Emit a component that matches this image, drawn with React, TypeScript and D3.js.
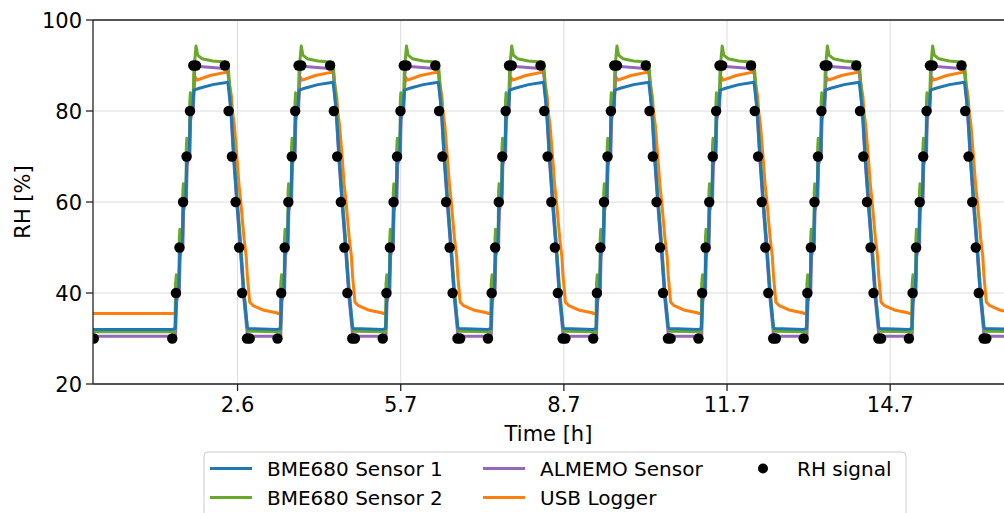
import React from "react";
import * as d3 from "d3";

// hours at which each humidity cycle starts (last 30 % sample before the ramp up)
const CYCLE_STARTS = [1.43, 3.381, 5.332, 7.283, 9.234, 11.185, 13.136, 15.087];
const T_START = -0.04;
const T_END = 16.85;

// RH set-point samples inside one cycle: [hours after cycle start, RH %]
const SIGNAL_STEPS: [number, number][] = [
  [0, 30], [0.068, 40], [0.133, 50], [0.2, 60], [0.265, 70], [0.328, 80],
  [0.39, 90], [0.44, 90], [0.975, 90], [1.044, 80], [1.106, 70], [1.174, 60],
  [1.24, 50], [1.295, 40], [1.385, 30], [1.435, 30],
];
const SIGNAL_FIRST: [number, number] = [-0.025, 30];

// sensor traces inside one cycle
const BME1_LEAD = 32.0;
const BME1_CYCLE: [number, number][] = [
  [0, 32.0], [0.055, 32.2], [0.07, 38], [0.085, 40.3], [0.12, 41], [0.135, 48],
  [0.15, 50.5], [0.185, 51], [0.2, 58], [0.215, 60.5], [0.25, 61], [0.265, 68],
  [0.28, 70.5], [0.315, 71], [0.33, 78], [0.345, 80.5], [0.38, 81], [0.4, 84.6],
  [0.5, 85.0], [0.75, 85.8], [1.03, 86.3], [1.09, 80], [1.14, 70], [1.2, 60],
  [1.265, 50], [1.325, 40], [1.39, 32.5], [1.41, 32.2], [1.95, 32.0],
];

const BME2_LEAD = 31.5;
const BME2_CYCLE: [number, number][] = [
  [0, 31.5], [0.05, 31.5], [0.06, 42], [0.075, 44], [0.09, 41.5], [0.125, 42],
  [0.13, 52], [0.14, 54], [0.155, 51.5], [0.19, 52], [0.195, 62], [0.205, 64],
  [0.22, 61.5], [0.255, 62], [0.26, 72], [0.27, 74], [0.285, 71.5], [0.32, 72],
  [0.325, 82], [0.335, 84], [0.35, 81.5], [0.385, 82], [0.4, 89], [0.44, 94.3],
  [0.47, 92.3], [0.55, 91.5], [0.75, 91], [1.03, 90.7], [1.095, 80.5],
  [1.145, 70.5], [1.205, 60.5], [1.27, 50.5], [1.33, 40.5], [1.395, 32],
  [1.42, 31.6], [1.95, 31.5],
];

const ALMEMO_LEAD = 30.5;
const ALMEMO_CYCLE: [number, number][] = [
  [0, 30.5], [0.06, 30.5], [0.08, 38], [0.095, 39], [0.13, 39.5], [0.145, 48],
  [0.16, 49], [0.195, 49.5], [0.21, 58], [0.225, 59], [0.26, 59.5], [0.275, 68],
  [0.29, 69], [0.325, 69.5], [0.34, 78], [0.355, 79], [0.39, 80], [0.41, 88],
  [0.43, 90.5], [0.5, 89.8], [1.03, 89.3], [1.09, 79], [1.14, 69], [1.2, 59],
  [1.265, 49], [1.325, 39], [1.39, 31], [1.42, 30.5], [1.95, 30.5],
];

const USB_LEAD = 35.5;
const USB_CYCLE: [number, number][] = [
  [0, 35.5], [0.06, 35.5], [0.08, 40.5], [0.12, 41], [0.145, 50], [0.185, 50.5],
  [0.21, 60], [0.25, 60.5], [0.275, 70], [0.315, 70.5], [0.34, 80], [0.38, 80.5],
  [0.405, 85], [0.42, 87.5], [0.46, 86.8], [0.7, 87.8], [1.03, 88.6], [1.06, 86],
  [1.1, 83], [1.115, 80], [1.15, 77], [1.17, 74], [1.21, 68], [1.235, 64],
  [1.27, 60], [1.3, 56], [1.33, 52], [1.37, 48], [1.39, 44], [1.42, 40],
  [1.435, 38], [1.5, 37.2], [1.7, 36.2], [1.95, 35.6],
];

const X_TICKS = [2.64, 5.665, 8.69, 11.715, 14.74];
const X_TICK_LABELS = ["2.6", "5.7", "8.7", "11.7", "14.7"];
const Y_TICKS = [20, 40, 60, 80, 100];

const SERIES = [
  { name: "BME680 Sensor 1", color: "#1f77b4", lead: BME1_LEAD, cycle: BME1_CYCLE },
  { name: "BME680 Sensor 2", color: "#6aa82c", lead: BME2_LEAD, cycle: BME2_CYCLE },
  { name: "ALMEMO Sensor", color: "#9467bd", lead: ALMEMO_LEAD, cycle: ALMEMO_CYCLE },
  { name: "USB Logger", color: "#ff7f0e", lead: USB_LEAD, cycle: USB_CYCLE },
];
// drawing order (bottom to top)
const DRAW_ORDER = ["USB Logger", "ALMEMO Sensor", "BME680 Sensor 2", "BME680 Sensor 1"];

const W = 1004;
const H = 513;
const M = { left: 93, top: 20, right: 1004, bottom: 384 };
const FONT = "'DejaVu Sans', sans-serif";

function buildSeries(lead: number, cycle: [number, number][]) {
  const pts: [number, number][] = [[T_START, lead]];
  CYCLE_STARTS.forEach((c) => cycle.forEach(([dt, v]) => pts.push([c + dt, v])));
  return pts;
}

export default function App() {
  const x = d3.scaleLinear().domain([T_START, T_END]).range([M.left, M.right]);
  const y = d3.scaleLinear().domain([20, 100]).range([M.bottom, M.top]);
  const line = d3
    .line<[number, number]>()
    .x((d) => x(d[0]))
    .y((d) => y(d[1]));

  const signal: [number, number][] = [SIGNAL_FIRST];
  CYCLE_STARTS.forEach((c) => SIGNAL_STEPS.forEach(([dt, v]) => signal.push([c + dt, v])));

  const legendRows = [
    { col: 0, row: 0, s: SERIES[0] },
    { col: 0, row: 1, s: SERIES[1] },
    { col: 1, row: 0, s: SERIES[2] },
    { col: 1, row: 1, s: SERIES[3] },
  ];
  const colX = [210, 483];
  const rowY = [468.5, 497.5];

  return (
    <svg
      width={W}
      height={H}
      style={{ position: "absolute", left: 0, top: 0, background: "#fff" }}
      fontFamily={FONT}
    >
      <defs>
        <clipPath id="plot">
          <rect x={M.left} y={M.top} width={M.right - M.left + 10} height={M.bottom - M.top} />
        </clipPath>
      </defs>

      {/* grid */}
      <g stroke="#dcdcdc" strokeWidth={1}>
        {Y_TICKS.map((t) => (
          <line key={"gy" + t} x1={M.left} x2={W} y1={y(t)} y2={y(t)} />
        ))}
        {X_TICKS.map((t) => (
          <line key={"gx" + t} x1={x(t)} x2={x(t)} y1={M.top} y2={M.bottom} />
        ))}
      </g>

      {/* series */}
      <g clipPath="url(#plot)" fill="none" strokeWidth={3} strokeLinejoin="round">
        {DRAW_ORDER.map((n) => {
          const s = SERIES.find((d) => d.name === n)!;
          return <path key={n} d={line(buildSeries(s.lead, s.cycle)) || ""} stroke={s.color} />;
        })}
        {signal.map((d, i) => (
          <circle key={i} cx={x(d[0])} cy={y(d[1])} r={5.2} fill="#000" stroke="none" />
        ))}
      </g>

      {/* spines */}
      <g stroke="#222" strokeWidth={1.3} fill="none">
        <line x1={M.left} x2={M.left} y1={M.top} y2={M.bottom} />
        <line x1={M.left} x2={W} y1={M.bottom} y2={M.bottom} />
        <line x1={M.left} x2={W} y1={M.top} y2={M.top} />
      </g>

      {/* y axis */}
      <g fontSize={21} fill="#000">
        {Y_TICKS.map((t) => (
          <g key={"yt" + t}>
            <line x1={M.left - 7} x2={M.left} y1={y(t)} y2={y(t)} stroke="#222" strokeWidth={1.3} />
            <text x={M.left - 11} y={y(t)} dy="0.36em" textAnchor="end">
              {t}
            </text>
          </g>
        ))}
        <text
          transform={`translate(30,${(M.top + M.bottom) / 2}) rotate(-90)`}
          textAnchor="middle"
        >
          RH [%]
        </text>
      </g>

      {/* x axis */}
      <g fontSize={21} fill="#000">
        {X_TICKS.map((t, i) => (
          <g key={"xt" + t}>
            <line x1={x(t)} x2={x(t)} y1={M.bottom} y2={M.bottom + 7} stroke="#222" strokeWidth={1.3} />
            <text x={x(t)} y={412} textAnchor="middle">
              {X_TICK_LABELS[i]}
            </text>
          </g>
        ))}
        <text x={(M.left + W) / 2} y={441} textAnchor="middle">
          Time [h]
        </text>
      </g>

      {/* legend */}
      <g fontSize={20}>
        <rect x={204} y={452} width={702} height={75} rx={4} fill="#fff" fillOpacity={0.8} stroke="#cccccc" />
        {legendRows.map(({ col, row, s }) => (
          <g key={s.name}>
            <line x1={colX[col]} x2={colX[col] + 42} y1={rowY[row]} y2={rowY[row]} stroke={s.color} strokeWidth={2.8} />
            <text x={colX[col] + 57} y={rowY[row]} dy="0.36em">
              {s.name}
            </text>
          </g>
        ))}
        <circle cx={763} cy={rowY[0]} r={5} fill="#000" />
        <text x={797} y={rowY[0]} dy="0.36em">
          RH signal
        </text>
      </g>
    </svg>
  );
}
